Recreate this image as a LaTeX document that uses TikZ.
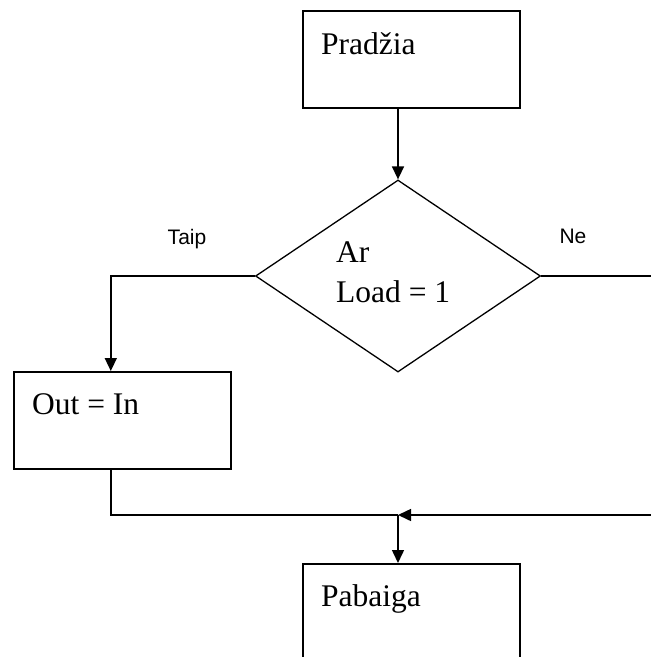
\documentclass[tikz,border=0pt]{standalone}
\usepackage{fontspec}
\setmainfont{Liberation Serif}
\newfontfamily\labelfont{Liberation Sans}
\usetikzlibrary{arrows.meta,shapes.geometric,calc}
\begin{document}
\begin{tikzpicture}[x=1pt,y=-1pt,
  box/.style={draw, line width=1.6pt, minimum width=217pt, minimum height=97pt,
              inner sep=0pt, anchor=north west},
  flow/.style={line width=1.5pt},
  tip/.style={-{Triangle[length=13pt,width=12pt]}},
  boxtext/.style={font=\fontsize{31.5}{36}\selectfont, inner sep=0pt, anchor=base west},
  branch/.style={font=\labelfont\fontsize{21}{24}\selectfont, inner sep=0pt, anchor=base}]
  % page frame; parts running past the edge are cut off
  \clip (0,0) rectangle (651,657);
  \fill[white] (0,0) rectangle (651,657);

  % blocks
  \node[box] (start) at (302,10) {};
  \node[boxtext] (starttxt) at (321,54) {Pradžia};

  \node[draw, diamond, line width=1.3pt, minimum width=285pt, minimum height=192pt,
        inner sep=0pt] (dec) at (398,276) {};
  \node[boxtext] (q1) at (336,262) {Ar};
  \node[boxtext] (q2) at (336,302) {Load = 1};

  \node[box] (act) at (13,371) {};
  \node[boxtext] (acttxt) at (32,414) {Out = In};

  \node[box, minimum height=140pt] (stop) at (302,563) {};
  \node[boxtext] (stoptxt) at (321,606) {Pabaiga};

  % branch labels
  \node[branch] (yes) at (187,244) {Taip};
  \node[branch] (no) at (573,243) {Ne};

  \coordinate (merge) at (398,515);
  \coordinate (rightturn) at (665,276);

  % connectors
  \draw[flow,tip] (start.south -| dec.north) -- (dec.north);
  \draw[flow,tip] (dec.west) -| ([xshift=-11.5pt]act.north);
  \draw[flow] ([xshift=-11.5pt]act.south) |- (merge);
  \draw[flow,tip] (dec.east) -- (rightturn) |- (merge);
  \draw[flow,tip] (merge) -- (stop.north -| merge);
\end{tikzpicture}
\end{document}
